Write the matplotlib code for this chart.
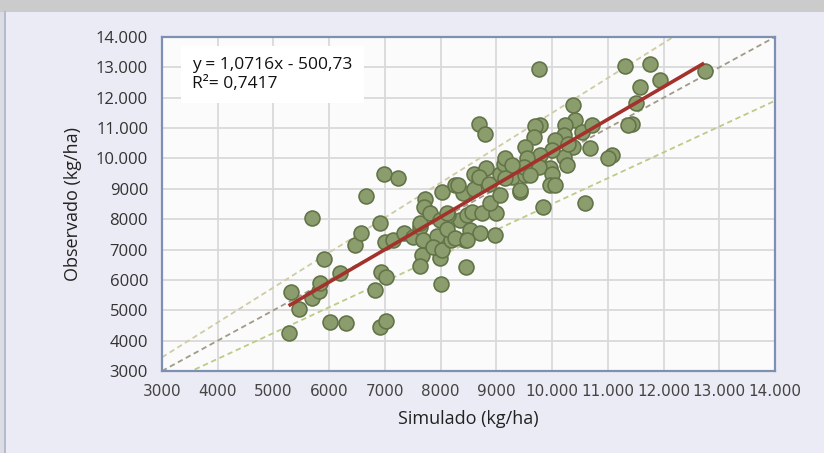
import matplotlib.pyplot as plt
import numpy as np
from matplotlib.patches import Rectangle
from matplotlib.ticker import FuncFormatter, MultipleLocator

simulado = [
    5280, 5310, 5460, 5690, 5820, 5840, 5700, 5900, 6020, 6200,
    6300, 6460, 6570, 6660, 6820, 6910, 6910, 6930, 7020, 7020,
    6990, 7230, 7010, 7140, 7340, 7500, 7630, 7630, 7690, 7660,
    7630, 7720, 7700, 7810, 7990, 7920, 8000, 7930, 7870, 8020,
    8190, 8440, 8460, 8350, 8130, 8020, 8250, 8410, 7990, 8110,
    8110, 8260, 8530, 8710, 8470, 8980, 8470, 8560, 8740, 9000,
    8890, 8590, 8600, 8820, 8680, 8860, 9070, 9130, 9310, 9280,
    9430, 9520, 9070, 8320, 8680, 8800, 9770, 11300, 11750, 11930,
    11580, 11500, 11430, 12750, 10370, 10410, 9790, 9700, 10240, 10210,
    10540, 10720, 9670, 9520, 10060, 10370, 10680, 11070, 11010, 10210,
    10000, 9790, 9550, 9970, 10270, 9760, 9490, 9610, 10000, 11370,
    10590, 9830, 9160, 9280, 9970, 10060, 9430, 10290, 9160,
]
observado = [
    4240, 5610, 5030, 5390, 5640, 5900, 8050, 6680, 4620, 6230,
    4570, 7150, 7530, 8770, 5660, 4460, 7880, 6270, 4650, 6100,
    9480, 9360, 7250, 7330, 7530, 7400, 7750, 7860, 7310, 6820,
    6460, 8680, 8400, 8210, 6710, 7090, 5860, 7440, 7070, 6980,
    7310, 7310, 6420, 7970, 8130, 8900, 9120, 8870, 7970, 8190,
    7690, 7370, 7640, 7530, 7310, 7470, 8130, 8240, 8190, 8210,
    8520, 8980, 9500, 9700, 9390, 9170, 9500, 9830, 9720, 9390,
    8900, 9450, 8790, 9120, 11130, 10820, 12930, 13030, 13120, 12600,
    12360, 11810, 11120, 12870, 11750, 11280, 11090, 11060, 11090, 10760,
    10870, 11090, 10710, 10380, 10620, 10380, 10330, 10110, 10000, 10050,
    10270, 10110, 10000, 9670, 9780, 9720, 9720, 9450, 9500, 11090,
    8520, 8400, 10000, 9780, 9120, 9120, 8960, 10490, 9340,
]

slope = 1.0716
intercept = -500.73
trend_x = [5300, 12700]


def fmt(v, pos):
    v = int(round(v))
    if v >= 10000:
        return f"{v:,}".replace(",", ".")
    return str(v)


fig = plt.figure(figsize=(8.24, 4.53), dpi=100)
fig.patch.set_facecolor('#ebebf5')
# top grey band and left border of the panel
fig.add_artist(Rectangle((0, 1 - 12 / 453), 1, 12 / 453, transform=fig.transFigure,
                         facecolor='#cbcbcb', edgecolor='none'))
fig.add_artist(Rectangle((0, 0), 5 / 824, 1 - 12 / 453, transform=fig.transFigure,
                         facecolor='#dcdce4', edgecolor='none'))
fig.add_artist(plt.Line2D([5 / 824, 5 / 824], [0, 1 - 12 / 453], transform=fig.transFigure,
                          color='#aab4c8', lw=1.2))

ax = fig.add_axes([162 / 824, 1 - 371 / 453, (775 - 162) / 824, (371 - 37) / 453])
ax.set_facecolor('#fbfbfb')

ax.set_xlim(3000, 14000)
ax.set_ylim(3000, 14000)
ax.xaxis.set_major_locator(MultipleLocator(1000))
ax.yaxis.set_major_locator(MultipleLocator(1000))
ax.xaxis.set_major_formatter(FuncFormatter(fmt))
ax.yaxis.set_major_formatter(FuncFormatter(fmt))
ax.grid(True, color='#d9d9d9', lw=1.3, zorder=0)
ax.set_axisbelow(True)

# 1:1 and +/-15% lines
lx = np.array([3000, 14000])
ax.plot(lx, lx, ls=(0, (3, 2)), color='#a09a86', lw=1.3, zorder=1)
ax.plot(lx, lx * 1.15, ls=(0, (3, 2)), color='#cfcca4', lw=1.3, zorder=1)
ax.plot(lx, lx * 0.85, ls=(0, (3, 2)), color='#bccb86', lw=1.3, zorder=1)

ax.scatter(simulado, observado, s=115, facecolor='#8b9d6c', edgecolor='#637448',
           linewidth=1.2, zorder=3)

tx = np.array(trend_x)
ax.plot(tx, slope * tx + intercept, color='#a3322c', lw=2.6, zorder=4)

ax.text(3540, 13350, 'y = 1,0716x - 500,73\nR²= 0,7417', fontsize=12.5, family='Open Sans',
        weight='medium', va='top', ha='left', linespacing=1.3, color='#111111',
        bbox=dict(facecolor='white', edgecolor='none', pad=8))

for s in ax.spines.values():
    s.set_color('#7d90b4')
    s.set_linewidth(1.6)

ax.tick_params(length=0)
ax.tick_params(axis='y', pad=10, labelsize=12, labelcolor='#333333')
ax.tick_params(axis='x', pad=9, labelsize=11, labelcolor='#444444')
for lab in ax.get_yticklabels():
    lab.set_family('Open Sans')
for lab in ax.get_xticklabels():
    lab.set_family(['Liberation Sans Narrow', 'DejaVu Sans'])

ax.set_xlabel('Simulado (kg/ha)', fontsize=13, family='Open Sans', labelpad=8, color='#222222')
ax.set_ylabel('Observado (kg/ha)', fontsize=13, family='Open Sans', labelpad=10, color='#222222')

fig.savefig('out.png', dpi=100, facecolor=fig.get_facecolor())
